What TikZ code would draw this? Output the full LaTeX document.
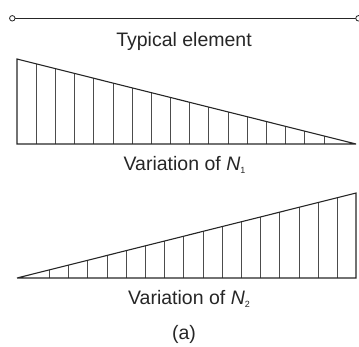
\documentclass[tikz,border=0pt]{standalone}
\usepackage{fontspec}
\setmainfont{Liberation Sans}
\begin{document}
\begin{tikzpicture}[x=1pt,y=-1pt,
  edge/.style={line width=1.1pt,draw=black!85},
  hatch/.style={line width=0.9pt,draw=black!70},
  lbl/.style={inner sep=0pt,anchor=base,font=\fontsize{19.5}{22}\selectfont,text=black!85},
  pin/.style={circle,draw=black!85,line width=0.8pt,fill=white,inner sep=0pt,minimum size=5.5pt}]
\useasboundingbox (0,0) rectangle (359,346);
% typical element
\coordinate (eL) at (12.3,18.3);
\coordinate (eR) at (358.5,18.3);
\draw[edge] (eL) -- (eR);
\node[pin] (pL) at (eL) {};
\node[pin] (pR) at (eR) {};
\node[lbl] (t1) at (184,46) {Typical element};
% N1 triangle
\coordinate (a1) at (17,59);
\coordinate (a2) at (17,144);
\coordinate (a3) at (356,144);
\foreach \k in {1,...,16}{
  \pgfmathsetmacro{\xx}{17+19.19*\k}
  \pgfmathsetmacro{\yy}{59+(\xx-17)/339*85}
  \draw[hatch] (\xx,144) -- (\xx,\yy);
}
\draw[edge] (a3) -- (a1) -- (a2) -- (a3);
\node[lbl] (t2) at (184.5,170.7) {Variation of {\itshape N}\raisebox{-3pt}{\fontsize{9}{9}\selectfont 1}};
% N2 triangle
\coordinate (b1) at (17,278);
\coordinate (b2) at (356,278);
\coordinate (b3) at (356,193);
\foreach \k in {0,...,15}{
  \pgfmathsetmacro{\xx}{49.3+19.22*\k}
  \pgfmathsetmacro{\yy}{278-(\xx-17)/339*85}
  \draw[hatch] (\xx,278) -- (\xx,\yy);
}
\draw[edge] (b1) -- (b2) -- (b3) -- (b1);
\node[lbl] (t3) at (189,304.7) {Variation of {\itshape N}\raisebox{-3pt}{\fontsize{9}{9}\selectfont 2}};
\node[lbl] (t4) at (184,339.5) {(a)};
\end{tikzpicture}
\end{document}
